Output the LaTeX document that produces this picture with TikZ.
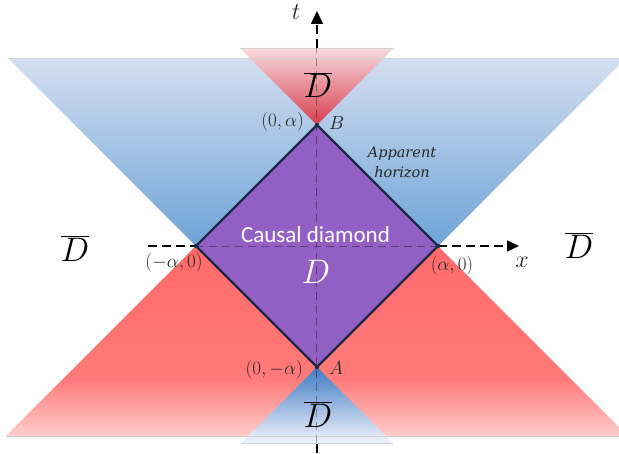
\RequirePackage{fix-cm}
\documentclass[tikz,border=0pt]{standalone}
\usepackage{fontspec}
\setmainfont{Carlito}
\newfontfamily\horizonfont{DejaVu Serif}
\usetikzlibrary{arrows.meta}

\definecolor{bluetop}{RGB}{212,222,240}
\definecolor{bluemid}{RGB}{160,190,228}
\definecolor{bluebot}{RGB}{110,164,216}
\definecolor{redtritop}{RGB}{248,218,222}
\definecolor{redtribot}{RGB}{214,62,76}
\definecolor{redlowtop}{RGB}{255,106,106}
\definecolor{redlowmid}{RGB}{255,122,122}
\definecolor{redlowbot}{RGB}{255,204,204}
\definecolor{bluetritop}{RGB}{62,122,194}
\definecolor{bluetrimid}{RGB}{110,150,208}
\definecolor{bluetribot}{RGB}{242,244,252}
\definecolor{diamondfill}{RGB}{146,96,196}
\definecolor{diamondedge}{RGB}{28,40,72}

\pgfdeclareverticalshading{redfade}{100bp}{color(0bp)=(redlowbot); color(25bp)=(redlowbot);
	color(40bp)=(redlowmid); color(75bp)=(redlowtop); color(100bp)=(redlowtop)}

\begin{document}
\begin{tikzpicture}[x=1pt,y=1pt,
		axis/.style={dash pattern=on 9pt off 5pt, line width=1.6pt},
		inaxis/.style={dash pattern=on 8pt off 5pt, line width=1pt, draw=black, opacity=0.35},
		lbl/.style={inner sep=0pt, text=black!85, font=\fontsize{19}{21}\selectfont},
		axlbl/.style={lbl, font=\fontsize{24}{26}\selectfont},
		dbar/.style={inner sep=0pt, font=\fontsize{34}{36}\selectfont},
		rim/.style={draw=gray!35, line width=0.8pt}]
			\useasboundingbox (-317,-207) rectangle (302,246);
			\coordinate (B) at (0,121);
			\coordinate (A) at (0,-121);
			\coordinate (L) at (-121,0);
			\coordinate (R) at (121,0);
			\coordinate (tBot) at (0,-207);
			\coordinate (tLow) at (0,-197);
			\coordinate (tHigh) at (0,198);
			\coordinate (tTop) at (0,235);
			\coordinate (xLeft) at (-169,0);
			\coordinate (xRight) at (202,0);
			% light cones
			\shade[top color=bluetop, middle color=bluemid, bottom color=bluebot] (-309,188) -- (302,188) -- (302,181) -- (R) -- (L) -- cycle;
			\shade[shading=redfade] (L) -- (R) -- (302,-181) -- (302,-190) -- (-311,-190) -- cycle;
			\shade[top color=redtritop, bottom color=redtribot] (B) -- (-77,198) -- (77,198) -- cycle;
			\shade[top color=bluetritop, middle color=bluetrimid, bottom color=bluetribot] (A) -- (-76,-197) -- (76,-197) -- cycle;
			\draw[rim] (-309,188) -- (302,188);
			\draw[rim] (-311,-190) -- (302,-190);
			\draw[rim] (-77,198) -- (77,198);
			\draw[rim] (-76,-197) -- (76,-197);
			% causal diamond
			\fill[diamondfill] (B) -- (R) -- (A) -- (L) -- cycle;
			% axes
			\draw[inaxis] (tLow) -- (tHigh);
			\draw[inaxis] (L) -- (R);
			\draw[axis] (tBot) -- (tLow);
			\draw[axis, -{Triangle[length=13pt,width=12pt]}] (tHigh) -- (tTop);
			\draw[axis] (xLeft) -- (L);
			\draw[axis, -{Triangle[length=12pt,width=11pt]}] (R) -- (xRight);
			\draw[diamondedge, line width=2.2pt, line join=miter] (B) -- (R) -- (A) -- (L) -- cycle;
			\foreach \v in {A,B,L,R}
				\fill[diamondedge] (\v) circle (2.2);
			% labels
			\node[lbl, anchor=base east] (posB) at (-13,119) {$(0,\alpha)$};
			\node[lbl, anchor=base west] (nameB) at (12,117) {$B$};
			\node[lbl, anchor=base east] (posA) at (-14,-128) {$(0,-\alpha)$};
			\node[lbl, anchor=base west] (nameA) at (12,-128) {$A$};
			\node[lbl, anchor=base] (posL) at (-143,-21) {$(-\alpha,0)$};
			\node[lbl, anchor=base] (posR) at (135,-24) {$(\alpha,0)$};
			\node[axlbl, anchor=base] (namex) at (205,-21) {$x$};
			\node[axlbl, anchor=base] (namet) at (-21,226) {$t$};
			\node[dbar, anchor=base] (outLeft) at (-242,-15) {$\overline{D}$};
			\node[dbar, anchor=base] (outRight) at (262,-12) {$\overline{D}$};
			\node[dbar, anchor=base] (outTop) at (1,148) {$\overline{D}$};
			\node[dbar, anchor=base] (outBottom) at (1,-181) {$\overline{D}$};
			\node[dbar, anchor=base, text=white] (inside) at (-1,-37) {$D$};
			\node[inner sep=0pt, anchor=base, text=white, font=\fontsize{23}{25}\selectfont] (causal) at (-1.5,4) {Causal diamond};
			\node[inner sep=0pt, align=center, text=black!85, font=\horizonfont\itshape\fontsize{14.5}{20}\selectfont] (horizon) at (85,84) {Apparent\\horizon};
		\end{tikzpicture}
\end{document}
